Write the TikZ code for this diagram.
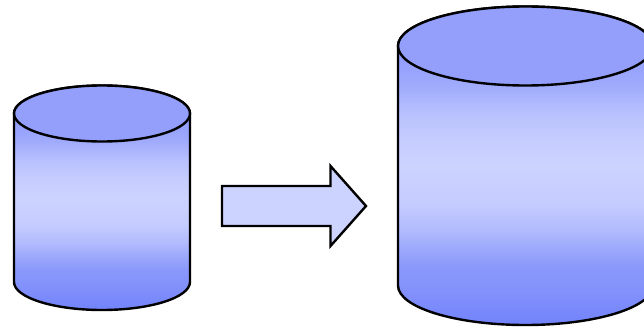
\documentclass[tikz,border=0pt]{standalone}
\definecolor{capblue}{HTML}{949FFC}
\definecolor{arrowblue}{HTML}{CDD3FF}
\definecolor{stopa}{HTML}{7283FB}
\definecolor{stopb}{HTML}{8493FB}
\definecolor{stopc}{HTML}{8A98FB}
\definecolor{stopd}{HTML}{9CA9FC}
\definecolor{stope}{HTML}{B2BBFD}
\definecolor{stopf}{HTML}{C5CCFF}
\definecolor{stopg}{HTML}{CDD3FF}
\definecolor{stoph}{HTML}{C6CDFF}
\definecolor{stopi}{HTML}{BAC2FE}
\definecolor{stopj}{HTML}{AEB8FD}
\definecolor{stopk}{HTML}{A0ABFC}
\definecolor{stopl}{HTML}{8F9CFB}
\pgfdeclareverticalshading{cylshade}{100bp}{
  color(0bp)=(stopa);
  color(25bp)=(stopa);
  color(31bp)=(stopb);
  color(34bp)=(stopc);
  color(37bp)=(stopd);
  color(40bp)=(stope);
  color(44bp)=(stopf);
  color(50bp)=(stopg);
  color(54bp)=(stoph);
  color(58bp)=(stopi);
  color(60bp)=(stopj);
  color(62.5bp)=(stopk);
  color(68bp)=(stopl);
  color(100bp)=(stopl)
}
\tikzset{
  x=1pt,y=-1pt,
  outline/.style={draw=black,line width=2.4pt,line join=round},
  cylbody/.style={outline,shading=cylshade},
  cylcap/.style={outline,fill=capblue},
  arrowshape/.style={outline,fill=arrowblue,line join=miter}
}
\begin{document}
\begin{tikzpicture}
\useasboundingbox (0,0) rectangle (644,329);
% small cylinder
\path[cylbody] (14,113.5) -- (14,282) arc[start angle=180,end angle=0,x radius=88,y radius=28] -- (190,113.5) arc[start angle=0,end angle=-180,x radius=88,y radius=28] -- cycle;
\path[cylcap] (102,113.5) ellipse[x radius=88,y radius=28];
% arrow
\path[arrowshape] (222,186) -- (330.5,186) -- (330.5,166) -- (366,206) -- (330.5,246) -- (330.5,226) -- (222,226) -- cycle;
% large cylinder
\begin{scope}
\clip (380,0) rectangle (644,329);
\path[cylbody] (398,46) -- (398,285.5) arc[start angle=180,end angle=0,x radius=127.5,y radius=39.5] -- (653,46) arc[start angle=0,end angle=-180,x radius=127.5,y radius=39.5] -- cycle;
\path[cylcap] (525.5,46) ellipse[x radius=127.5,y radius=39.5];
\end{scope}
\end{tikzpicture}
\end{document}
